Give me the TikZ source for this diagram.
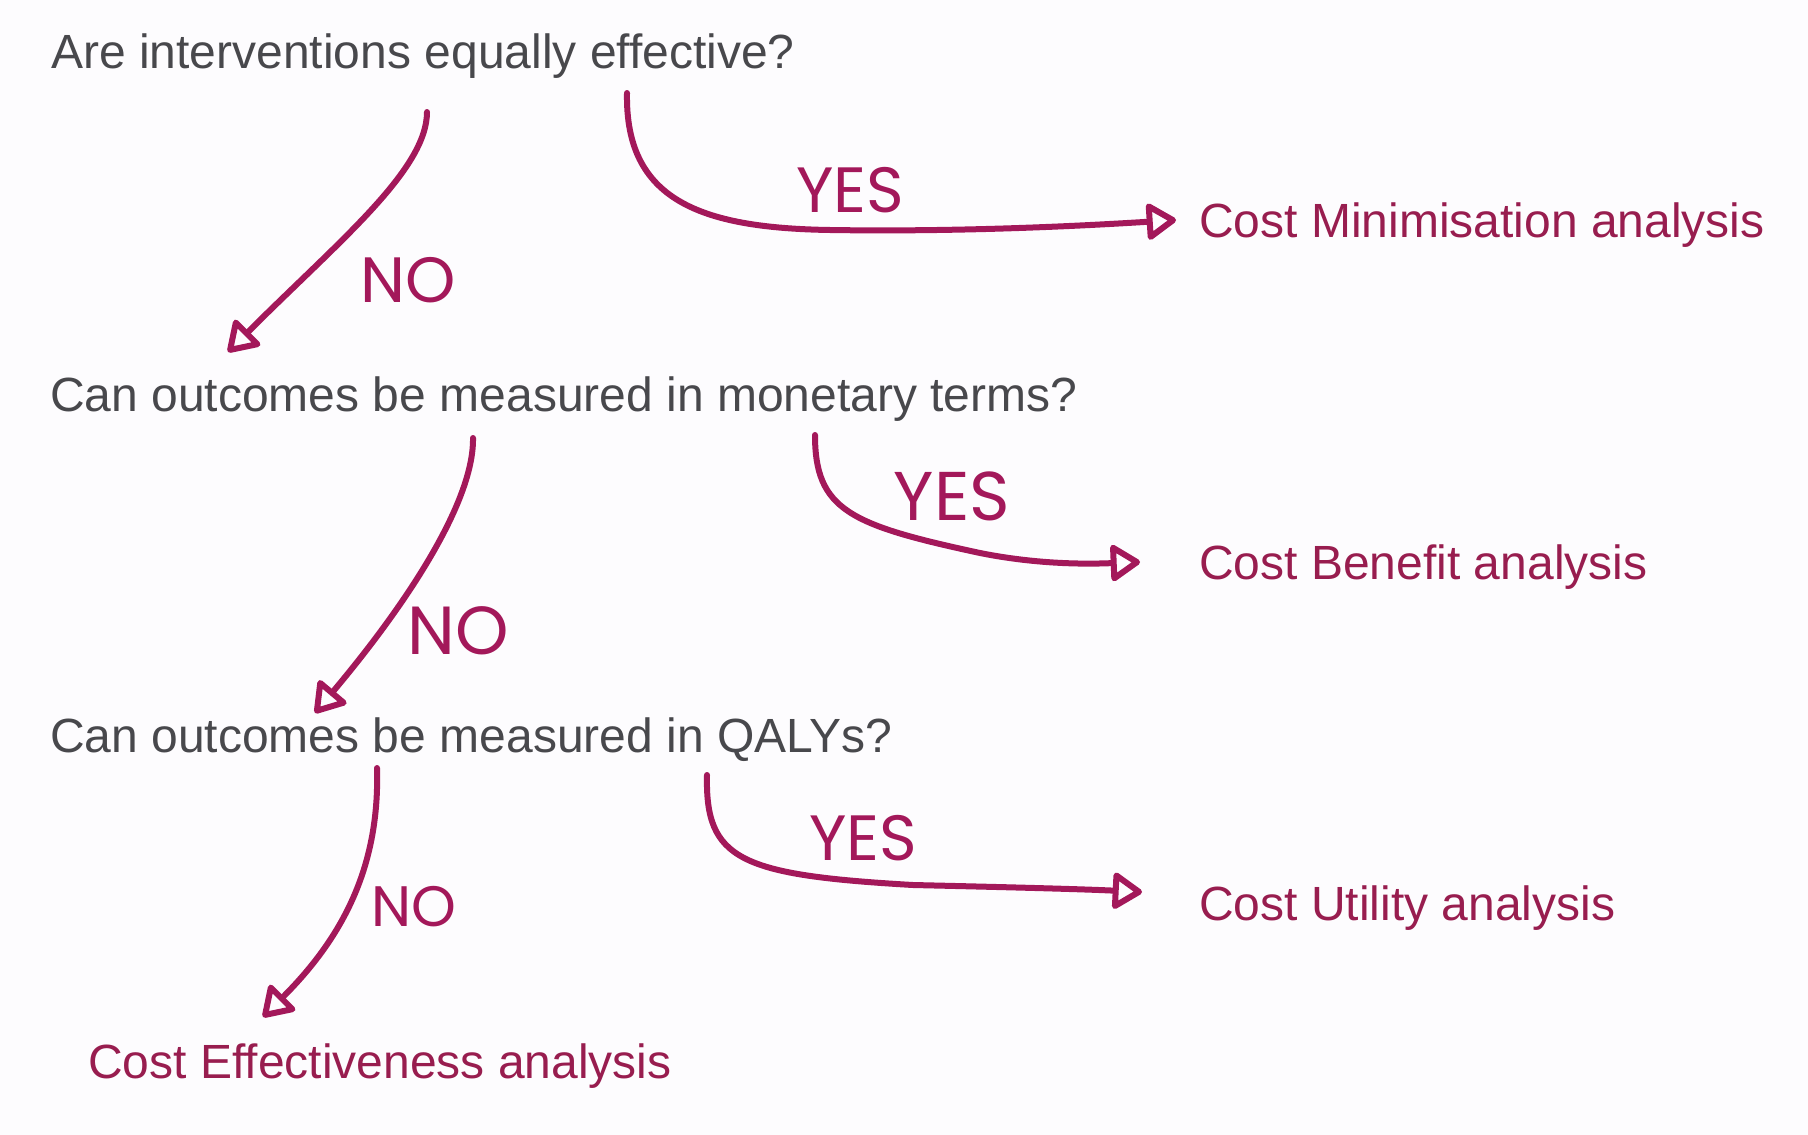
\documentclass[tikz,border=0pt]{standalone}
\usepackage{fontspec}
\setmainfont{Liberation Sans}
\newfontfamily\handfont{Poppins}
\usetikzlibrary{arrows.meta}
\definecolor{qgrey}{HTML}{48484C}
\definecolor{answer}{HTML}{981D4F}
\definecolor{penink}{HTML}{A3185A}
\definecolor{paper}{HTML}{FDFCFE}

\begin{document}
\begin{tikzpicture}[x=1pt,y=-1pt]
  \tikzset{question/.style={anchor=base west,inner sep=0pt,text=qgrey,font=\fontsize{48}{58}\selectfont},
    analysis/.style={question,text=answer},
    choice/.style={draw=penink,line width=6pt,line cap=round,line join=round,
      -{Triangle[open,round,length=32pt,width=40pt]}},
    hand/.style={inner sep=0pt,text=penink,font=\handfont\fontsize{#1}{#1}\selectfont}}
  \fill[paper] (0,0) rectangle (1808,1135);
  \useasboundingbox (0,0) rectangle (1808,1135);
  % questions and outcomes
  \node[question] (q1) at (51,68) {Are interventions equally effective?};
  \node[question] (q2) at (50,411) {Can outcomes be measured in monetary terms?};
  \node[question] (q3) at (50,752) {Can outcomes be measured in QALYs?};
  \node[analysis] (cma) at (1199,237) {Cost Minimisation analysis};
  \node[analysis] (cba) at (1199,579) {Cost Benefit analysis};
  \node[analysis] (cua) at (1199,920) {Cost Utility analysis};
  \node[analysis] (cea) at (88,1078) {Cost Effectiveness analysis};
  % arrow ends
  \coordinate (no1a) at (427,112);  \coordinate (no1b) at (228,352);
  \coordinate (yes1a) at (627,93);  \coordinate (yes1m) at (830,230); \coordinate (yes1b) at (1176,220);
  \coordinate (no2a) at (473,438);  \coordinate (no2b) at (315,713);
  \coordinate (yes2a) at (815,435); \coordinate (yes2m) at (980,553); \coordinate (yes2b) at (1140,562);
  \coordinate (no3a) at (377,768);  \coordinate (no3b) at (263,1017);
  \coordinate (yes3a) at (707,775); \coordinate (yes3m) at (913,885); \coordinate (yes3b) at (1142,892);
  % hand drawn arrows
  \draw[choice] (no1a) .. controls +(0,58) and +(110,-110) .. (no1b);
  \draw[choice] (yes1a) .. controls +(-2,107) and +(-130,-2) .. (yes1m)
    .. controls +(130,2) and +(-96,6) .. (yes1b);
  \draw[choice] (no2a) .. controls +(1,62) and +(95,-113) .. (no2b);
  \draw[choice] (yes2a) .. controls +(0,75) and +(-130,-28) .. (yes2m)
    .. controls +(60,12) and +(-50,2) .. (yes2b);
  \draw[choice] (no3a) .. controls +(3,102) and +(77,-77) .. (no3b);
  \draw[choice] (yes3a) .. controls +(-2,85) and +(-173,-10) .. (yes3m)
    .. controls +(87,2) and +(-62,-3) .. (yes3b);
  % answers
  \node[hand=64] (no1) at (408,280) {NO};
  \node[hand=64] (yes1) at (850,190) {YES};
  \node[hand=68] (no2) at (458,631) {NO};
  \node[hand=69] (yes2) at (952,496) {YES};
  \node[hand=57] (no3) at (414,907) {NO};
  \node[hand=64] (yes3) at (863,838) {YES};
\end{tikzpicture}
\end{document}
